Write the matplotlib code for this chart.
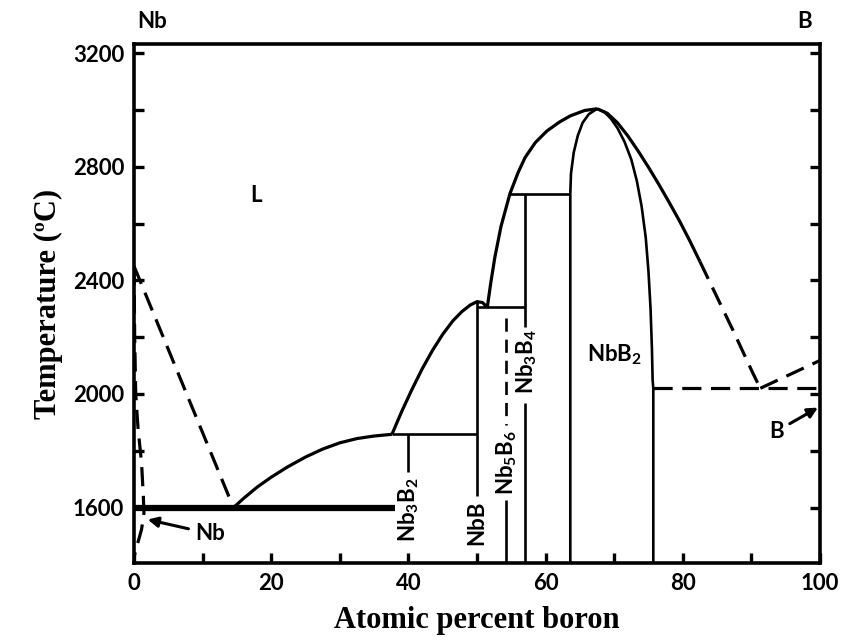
import numpy as np
import matplotlib
matplotlib.use('Agg')
import matplotlib.pyplot as plt

plt.rcParams['font.family'] = ['Lato', 'DejaVu Sans']
plt.rcParams['mathtext.fontset'] = 'custom'
plt.rcParams['mathtext.rm'] = 'Lato:bold'
plt.rcParams['mathtext.it'] = 'Lato:bold'
plt.rcParams['mathtext.bf'] = 'Lato:bold'

# ---------------- data (atomic % B, temperature in degC) ----------------
liq_nb_x = [0.0, 14.5]
liq_nb_T = [2450, 1600]

solvus_nb_x = [0.0, 0.1, 0.25, 0.6, 1.1, 1.36, 1.45, 1.1, 0.4, 0.05]
solvus_nb_T = [2450, 2200, 2000, 1875, 1758, 1640, 1580, 1523, 1463, 1430]

liq_a_x = [14.5, 16.0, 18.0, 20.0, 22.3, 25.0, 27.5, 30.0, 32.5, 35.0, 37.6]
liq_a_T = [1600, 1633, 1673, 1707, 1742, 1778, 1806, 1828, 1843, 1852, 1858]

liq_b_x = [37.6, 39.0, 40.5, 42.0, 43.5, 45.0, 46.5, 47.8, 49.0, 50.0, 50.8, 51.5]
liq_b_T = [1858, 1937, 2015, 2088, 2153, 2210, 2258, 2290, 2313, 2325, 2322, 2305]

liq_c_x = [51.5, 52.0, 52.6, 53.5, 54.8, 56.0, 57.0, 58.5, 60.2, 62.0, 63.6, 65.7, 67.5]
liq_c_T = [2305, 2390, 2481, 2590, 2705, 2780, 2832, 2885, 2926, 2957, 2979, 2998, 3004]

liq_d_x = [67.5, 69.0, 70.5, 72.0, 73.5, 75.0, 76.5, 78.0, 79.5, 81.0, 82.5]
liq_d_T = [3004, 2988, 2954, 2908, 2855, 2798, 2738, 2675, 2610, 2540, 2466]

liq_d_dash_x = [82.5, 87.3, 90.2, 91.3]
liq_d_dash_T = [2466, 2225, 2074, 2020]

liq_b_side_x = [91.3, 100.0]
liq_b_side_T = [2020, 2118]

nbb2_left_x = [63.6, 63.6, 63.7, 64.1, 64.7, 65.4, 66.3, 67.5]
nbb2_left_T = [1405, 2705, 2776, 2850, 2910, 2955, 2985, 3004]

nbb2_right_x = [67.5, 68.5, 69.5, 70.5, 71.5, 72.5, 73.3, 74.0, 74.6, 75.0, 75.3,
                75.5, 75.6, 75.7, 75.7]
nbb2_right_T = [3004, 2994, 2970, 2935, 2888, 2825, 2750, 2660, 2550, 2430, 2300,
                2160, 2049, 2020, 1405]

# invariant lines: (x_start, x_end, T)
eutectic_nb = (0.0, 38.0, 1600)
perit_nb3b2 = (37.6, 50.0, 1858)
perit_nb3b4 = (50.0, 57.0, 2305)
perit_high = (54.8, 63.6, 2705)
eutectic_b = (75.7, 100.0, 2020)

# compound lines: x, list of solid segments (T1, T2)
nb3b2_x, nb3b2_seg = 40.0, [(1858, 1727)]
nbb_x, nbb_seg = 50.0, [(2325, 1640)]
nb5b6_x, nb5b6_dash, nb5b6_seg = 54.3, (2267, 1890), [(1628, 1405)]
nb3b4_x, nb3b4_seg = 57.0, [(2705, 2235), (1968, 1405)]

xticks = [0, 20, 40, 60, 80, 100]
yticks = [1600, 2000, 2400, 2800, 3200]

# ---------------- figure ----------------
fig = plt.figure(figsize=(8.42, 6.41), dpi=100)
ax = fig.add_axes([134/842, 1-563/641, (820-134)/842, (563-44)/641])
ax.set_xlim(0, 100)
ax.set_ylim(1405, 3232)

lw = 2.3
thin = 1.9
dash = (0, (6, 3))
kw = dict(color='black', solid_capstyle='butt', solid_joinstyle='round')

ax.plot(liq_nb_x, liq_nb_T, lw=lw, ls=dash, **kw)
ax.plot(solvus_nb_x, solvus_nb_T, lw=lw, ls=dash, **kw)
ax.plot(liq_a_x, liq_a_T, lw=lw, **kw)
ax.plot(liq_b_x, liq_b_T, lw=lw, **kw)
ax.plot(liq_c_x, liq_c_T, lw=lw, **kw)
ax.plot(liq_d_x, liq_d_T, lw=lw, **kw)
ax.plot(liq_d_dash_x, liq_d_dash_T, lw=lw, ls=dash, **kw)
ax.plot(liq_b_side_x, liq_b_side_T, lw=lw, ls=dash, **kw)
ax.plot(nbb2_left_x, nbb2_left_T, lw=thin, **kw)
ax.plot(nbb2_right_x, nbb2_right_T, lw=thin, **kw)

ax.plot(eutectic_nb[:2], [eutectic_nb[2]]*2, lw=4.5, **kw)
for x0, x1, T in (perit_nb3b2, perit_nb3b4, perit_high):
    ax.plot([x0, x1], [T, T], lw=thin, **kw)
ax.plot(eutectic_b[:2], [eutectic_b[2]]*2, lw=lw, ls=dash, **kw)

for xc, segs in ((nb3b2_x, nb3b2_seg), (nbb_x, nbb_seg), (nb5b6_x, nb5b6_seg), (nb3b4_x, nb3b4_seg)):
    for T1, T2 in segs:
        ax.plot([xc, xc], [T1, T2], lw=thin, **kw)
ax.plot([nb5b6_x]*2, list(nb5b6_dash), lw=thin, ls=(0, (5, 3)), **kw)

# compound labels
fs = 16
lab = dict(fontsize=fs, fontweight='bold', ha='center', va='center')
ax.text(40.1, 1593, r'Nb$_3$B$_2$', rotation=90, **lab)
ax.text(50.0, 1547, 'NbB', rotation=90, **lab)
ax.text(54.3, 1758, r'Nb$_5$B$_6$', rotation=90, **lab)
ax.text(57.3, 2113, r'Nb$_3$B$_4$', rotation=90, **lab)
ax.text(70.0, 2140, r'NbB$_2$', **lab)
ax.text(17.8, 2698, 'L', **lab)

ax.annotate('Nb', xy=(2.0, 1558), xytext=(11.1, 1508), fontsize=fs, fontweight='bold',
            ha='center', va='center',
            arrowprops=dict(arrowstyle='-|>', color='black', lw=2.2, mutation_scale=15,
                            shrinkA=3, shrinkB=0))
ax.annotate('B', xy=(99.7, 1952), xytext=(93.6, 1868), fontsize=fs, fontweight='bold',
            ha='center', va='center',
            arrowprops=dict(arrowstyle='-|>', color='black', lw=2.2, mutation_scale=15,
                            shrinkA=3, shrinkB=0))

# end-member labels above axes
fig.text(137/842, 1-22/641, 'Nb', fontsize=fs, fontweight='bold', ha='left', va='center')
fig.text(805/842, 1-22/641, 'B', fontsize=fs, fontweight='bold', ha='center', va='center')

# axes styling
for s in ax.spines.values():
    s.set_linewidth(2.6)
ax.set_xticks(xticks)
ax.set_yticks(yticks)
ax.set_xticks(np.arange(0, 101, 10), minor=True)
ax.set_yticks(np.arange(1600, 3201, 200), minor=True)
ax.tick_params(which='both', direction='in', length=7, width=2.4, right=True, top=False)
ax.tick_params(which='major', labelsize=16, pad=7)
for t in ax.get_xticklabels() + ax.get_yticklabels():
    t.set_fontweight('bold')

ax.set_xlabel('Atomic percent boron', fontsize=22, fontweight='bold',
              family='Liberation Serif', labelpad=9)
ax.set_ylabel('Temperature (ºC)', fontsize=22, fontweight='bold',
              family='Liberation Serif', labelpad=7)

fig.savefig('out.png', dpi=100)
